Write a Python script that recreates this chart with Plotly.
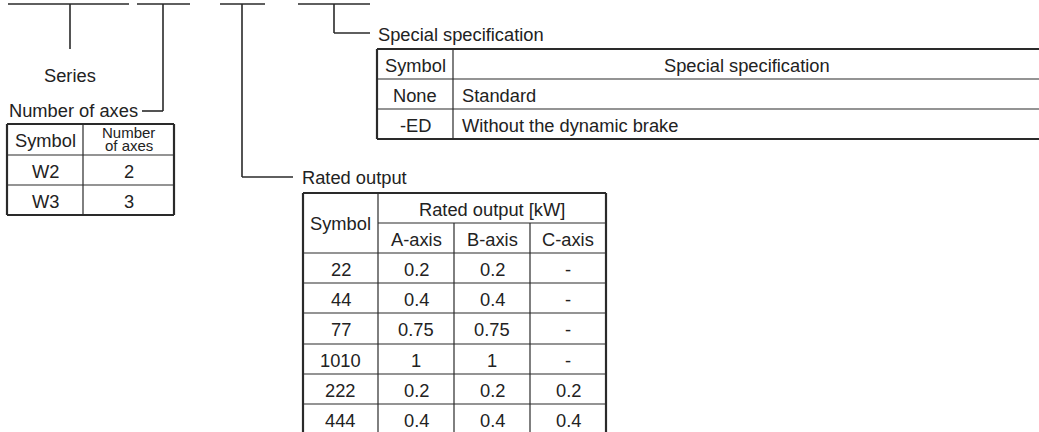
import plotly.graph_objects as go

# ---------------- data ----------------
axes_header = ["Symbol", ["Number", "of axes"]]
axes_symbols = ["W2", "W3"]
axes_counts = ["2", "3"]

rated_header_top = "Rated output [kW]"
rated_axes_labels = ["A-axis", "B-axis", "C-axis"]
rated_symbols = ["22", "44", "77", "1010", "222", "444"]
rated_a = ["0.2", "0.4", "0.75", "1", "0.2", "0.4"]
rated_b = ["0.2", "0.4", "0.75", "1", "0.2", "0.4"]
rated_c = ["-", "-", "-", "-", "0.2", "0.4"]

spec_header = ["Symbol", "Special specification"]
spec_symbols = ["None", "-ED"]
spec_desc = ["Standard", "Without the dynamic brake"]

labels = ["Series", "Number of axes", "Rated output", "Special specification"]

# ---------------- layout geometry ----------------
W, H = 1039, 432
FONT = "Liberation Sans, Arial, sans-serif"
TXT = "#222222"
LINE = "#2a2a2a"
FS = 18.3

shapes = []
annots = []


def line(x0, y0, x1, y1, w=1.5, c=LINE):
    shapes.append(dict(type="line", x0=x0, y0=y0, x1=x1, y1=y1, xref="x", yref="y",
                       line=dict(color=c, width=w)))


def text(x, y, s, size=FS, xanchor="center"):
    annots.append(dict(x=x, y=y, text=s, showarrow=False, xref="x", yref="y",
                       xanchor=xanchor, yanchor="middle",
                       font=dict(family=FONT, size=size, color=TXT)))


def grid(xs, ys, outer_w=2.2):
    line(xs[0], ys[0], xs[-1], ys[0], outer_w)
    line(xs[0], ys[-1], xs[-1], ys[-1], outer_w)
    line(xs[0], ys[0], xs[0], ys[-1], outer_w)
    line(xs[-1], ys[0], xs[-1], ys[-1], outer_w)


# top bracket segments
top_y = 4
for x0, x1 in [(8, 129), (137, 190), (220, 265), (298, 370)]:
    line(x0, top_y, x1, top_y, 1.6)

# leader lines
line(70, top_y, 70, 49, 1.6)
text(70, 75, labels[0])

line(163, top_y, 163, 111, 1.6)
line(142, 111, 163, 111, 1.6)
text(7, 110, labels[1], xanchor="left")

line(242, top_y, 242, 177, 1.6)
line(242, 177, 293, 177, 1.6)
text(300, 177, labels[2], xanchor="left")

line(334, top_y, 334, 33, 1.6)
line(334, 33, 370, 33, 1.6)
text(376, 34, labels[3], xanchor="left")

# ---- Number of axes table ----
ax_x = [7, 83, 174]
ax_y = [124, 155, 185, 215]
grid(ax_x, ax_y)
for yy in ax_y[1:-1]:
    line(ax_x[0], yy, ax_x[-1], yy, 1.2)
line(ax_x[1], ax_y[0], ax_x[1], ax_y[-1], 1.2)
text((ax_x[0] + ax_x[1]) / 2, (ax_y[0] + ax_y[1]) / 2 + 1, axes_header[0])
text((ax_x[1] + ax_x[2]) / 2, ax_y[0] + 8, axes_header[1][0], size=15)
text((ax_x[1] + ax_x[2]) / 2, ax_y[0] + 21, axes_header[1][1], size=15)
for i, (s, n) in enumerate(zip(axes_symbols, axes_counts)):
    yc = (ax_y[i + 1] + ax_y[i + 2]) / 2 + 1
    text((ax_x[0] + ax_x[1]) / 2, yc, s)
    text((ax_x[1] + ax_x[2]) / 2, yc, n)

# ---- Special specification table ----
sp_x = [377, 453, 1041]
sp_y = [49, 79, 109, 139]
grid(sp_x, sp_y)
for yy in sp_y[1:-1]:
    line(sp_x[0], yy, sp_x[-1], yy, 1.2)
line(sp_x[1], sp_y[0], sp_x[1], sp_y[-1], 1.2)
text((sp_x[0] + sp_x[1]) / 2, (sp_y[0] + sp_y[1]) / 2 + 1, spec_header[0])
text((sp_x[1] + sp_x[2]) / 2, (sp_y[0] + sp_y[1]) / 2 + 1, spec_header[1])
for i, (s, d) in enumerate(zip(spec_symbols, spec_desc)):
    yc = (sp_y[i + 1] + sp_y[i + 2]) / 2 + 1
    text((sp_x[0] + sp_x[1]) / 2, yc, s)
    text(sp_x[1] + 7, yc, d, xanchor="left")

# ---- Rated output table ----
r_x = [303, 378, 454, 530, 606]
r_y = [193, 223, 253, 283, 313, 344, 374, 404, 434]
grid(r_x, r_y)
line(r_x[1], r_y[1], r_x[-1], r_y[1], 1.2)
for yy in r_y[2:-1]:
    line(r_x[0], yy, r_x[-1], yy, 1.2)
line(r_x[1], r_y[0], r_x[1], r_y[-1], 1.2)
for xx in r_x[2:-1]:
    line(xx, r_y[1], xx, r_y[-1], 1.2)
text((r_x[0] + r_x[1]) / 2, r_y[1], "Symbol")
text((r_x[1] + r_x[-1]) / 2, (r_y[0] + r_y[1]) / 2 + 1, rated_header_top)
for j, lab in enumerate(rated_axes_labels):
    text((r_x[j + 1] + r_x[j + 2]) / 2, (r_y[1] + r_y[2]) / 2 + 1, lab)
for i, row in enumerate(zip(rated_symbols, rated_a, rated_b, rated_c)):
    yc = (r_y[i + 2] + r_y[i + 3]) / 2 + 1
    for j, v in enumerate(row):
        text((r_x[j] + r_x[j + 1]) / 2, yc, v)

fig = go.Figure()
fig.update_layout(
    width=W, height=H,
    margin=dict(l=0, r=0, t=0, b=0),
    paper_bgcolor="white", plot_bgcolor="white",
    xaxis=dict(range=[0, W], visible=False, fixedrange=True),
    yaxis=dict(range=[H, 0], visible=False, fixedrange=True),
    shapes=shapes, annotations=annots, showlegend=False,
)
fig.write_html(
    "out.html",
    config={"displayModeBar": False},
    post_script="document.body.style.margin='0';document.body.style.overflow='hidden';",
)
